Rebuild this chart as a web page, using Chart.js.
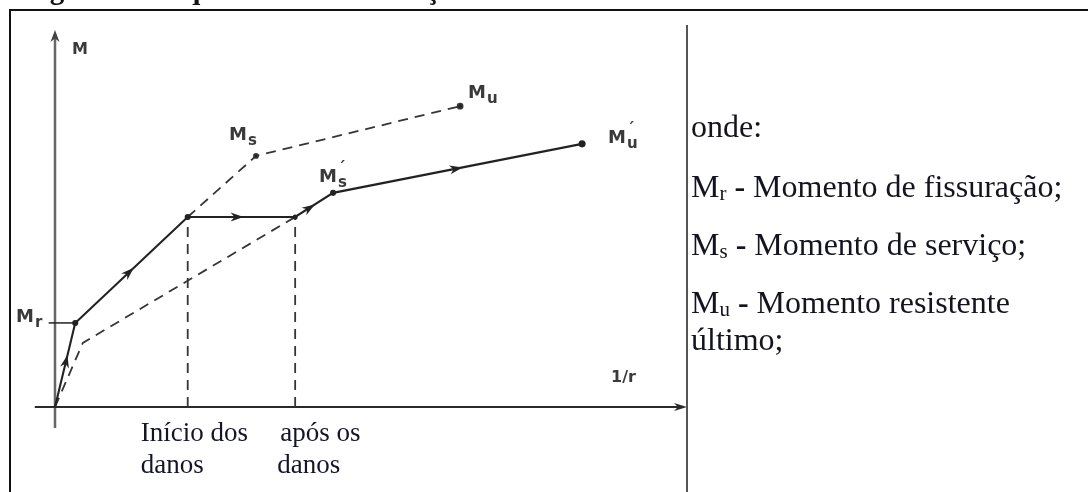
<!DOCTYPE html>
<html>
<head>
<meta charset="utf-8">
<script src="https://cdn.jsdelivr.net/npm/chart.js@4.4.1/dist/chart.umd.min.js"></script>
<style>
  html, body { margin: 0; padding: 0; background: #fff; }
  #wrap { width: 1088px; height: 492px; position: relative; }
</style>
</head>
<body>
<div id="wrap"><canvas id="myChart"></canvas></div>
<script>
const ctx = document.getElementById('myChart').getContext('2d')

// M - 1/r paths (units: % of axis length)
const solidX = [0, 3.2, 21, 38, 44, 83.4]      // loading, damage, reloading
const solidY = [0, 22.3, 50.4, 50.4, 56.8, 69.8]
const virginX = [21, 31.8, 64.1]                // undamaged curve, Ms -> Mu
const virginY = [50.4, 66.6, 79.8]
const reloadX = [0, 4.4, 38]                    // stiffness after damage
const reloadY = [0, 17, 50.4]
const markX = [21, 38]                          // start / end of damage
const markLabels = [['Início dos', 'danos'], ['após os', 'danos']]
const crackY = 22.3                             // Mr

const legendLines = [
    ['M', 'r', ' Momento de fissuração;'],
    ['M', 's', ' Momento de serviço;'],
    ['M', 'u', ' Momento resistente'],
]

const toPts = (xs, ys) => xs.map((x, i) => ({x: x, y: ys[i]}))

const lineStyle = {
    showLine: true,
    borderColor: '#222',
    backgroundColor: '#222',
    borderWidth: 2.1,
    pointRadius: 0,
    clip: false,
}
const dashed = Object.assign({}, lineStyle, {borderDash: [10, 7], borderWidth: 1.8, borderColor: '#353535'})

const datasets = [
    Object.assign({}, lineStyle, {data: toPts(solidX, solidY), pointRadius: [0, 2, 2, 1.5, 2, 2.5]}),
    Object.assign({}, dashed, {data: toPts(virginX, virginY), pointRadius: [0, 2, 2.5]}),
    Object.assign({}, dashed, {data: toPts(reloadX, reloadY)}),
    Object.assign({}, lineStyle, {data: [{x: -1, y: crackY}, {x: solidX[1], y: crackY}], borderWidth: 1.5}),
]
markX.forEach((x, i) => {
    datasets.push(Object.assign({}, dashed, {data: [{x: x, y: 0}, {x: x, y: solidY[2 + i]}]}))
})

function arrowHead(c, x, y, ang, len, wid) {
    c.save()
    c.translate(x, y)
    c.rotate(ang)
    c.beginPath()
    c.moveTo(0, 0)
    c.lineTo(-len, -wid / 2)
    c.lineTo(-len * 0.7, 0)
    c.lineTo(-len, wid / 2)
    c.closePath()
    c.fill()
    c.restore()
}

// subscripted label: big M, small subscript, optional prime
function mLabel(c, x, y, sub, prime) {
    c.font = 'bold 18px "DejaVu Sans"'
    c.fillText('M', x, y)
    const w = c.measureText('M').width
    c.font = 'bold 15px "DejaVu Sans"'
    c.fillText(sub, x + w + 1, y + 5)
    if (prime) c.fillText('\u02CA', x + w + 1, y - 9)
}

const sketch = {
    id: 'sketch',
    beforeDatasetsDraw(chart) {
        const c = chart.ctx
        const xs = chart.scales.x, ys = chart.scales.y
        const ox = xs.getPixelForValue(0), oy = ys.getPixelForValue(0)
        c.save()
        // axes
        c.strokeStyle = '#666'
        c.fillStyle = '#444'
        c.lineWidth = 2.5
        c.beginPath()
        c.moveTo(ox, ys.getPixelForValue(-5.6))
        c.lineTo(ox, ys.getPixelForValue(100) + 4)
        c.stroke()
        arrowHead(c, ox, ys.getPixelForValue(100), -Math.PI / 2, 12, 9)
        c.strokeStyle = '#2a2a2a'
        c.fillStyle = '#2a2a2a'
        c.lineWidth = 1.8
        c.beginPath()
        c.moveTo(xs.getPixelForValue(-3.2), oy)
        c.lineTo(xs.getPixelForValue(100) - 4, oy)
        c.stroke()
        arrowHead(c, xs.getPixelForValue(100), oy, 0, 13, 8)
        c.restore()
    },
    afterDatasetsDraw(chart) {
        const c = chart.ctx
        const xs = chart.scales.x, ys = chart.scales.y
        const px = (x) => xs.getPixelForValue(x)
        const py = (y) => ys.getPixelForValue(y)
        c.save()
        // arrows halfway along each solid segment
        c.fillStyle = '#222'
        for (let i = 0; i < solidX.length - 1; i++) {
            const x0 = px(solidX[i]), y0 = py(solidY[i])
            const x1 = px(solidX[i + 1]), y1 = py(solidY[i + 1])
            const t = i === 0 ? 0.62 : 0.52
            arrowHead(c, x0 + (x1 - x0) * t, y0 + (y1 - y0) * t, Math.atan2(y1 - y0, x1 - x0), 13, 9)
        }
        // diagram labels
        c.fillStyle = '#3a3a3a'
        c.textBaseline = 'alphabetic'
        c.font = 'bold 16px "DejaVu Sans"'
        c.fillText('M', 72, 54)
        mLabel(c, 16, py(crackY) - 1, 'r', false)
        mLabel(c, px(virginX[1]) - 27, py(virginY[1]) - 16, 's', false)
        mLabel(c, px(virginX[2]) + 8, py(virginY[2]) - 8, 'u', false)
        mLabel(c, px(solidX[4]) - 14, py(solidY[4]) - 11, 's', true)
        mLabel(c, px(solidX[5]) + 26, py(solidY[5]) - 1, 'u', true)
        c.font = 'bold 16px "DejaVu Sans"'
        c.fillText('1/r', 611, 382)
        // damage labels under the x axis
        c.fillStyle = '#15152a'
        c.font = '27px "Liberation Serif"'
        markLabels.forEach((lines, i) => {
            const x = px(markX[i]) - (i === 0 ? 47 : 15)
            c.fillText(lines[0], x, 441)
            c.fillText(lines[1], x - (i === 0 ? 0 : 3), 473)
        })
        c.restore()
    },
    afterDraw(chart) {
        const c = chart.ctx
        c.save()
        // caption, cut by the page top
        c.fillStyle = '#111'
        c.font = 'bold 29px "Liberation Serif"'
        c.fillText('Figura 1 - Esquema de deterioração das características resistentes de uma estrutura', 24, -1)
        // frame and divider
        c.strokeStyle = '#111'
        c.lineWidth = 2
        c.beginPath()
        c.moveTo(10, 492)
        c.lineTo(10, 10)
        c.lineTo(1088, 10)
        c.stroke()
        c.strokeStyle = '#555'
        c.beginPath()
        c.moveTo(687, 25)
        c.lineTo(687, 492)
        c.stroke()
        // legend text
        c.fillStyle = '#141420'
        c.font = '32px "Liberation Serif"'
        c.fillText('onde:', 691, 137)
        legendLines.forEach((l, i) => {
            const y = 197 + i * 58
            c.font = '32px "Liberation Serif"'
            c.fillText(l[0], 691, y)
            let x = 691 + c.measureText(l[0]).width
            c.font = '21px "Liberation Serif"'
            c.fillText(l[1], x, y + 3)
            x += c.measureText(l[1]).width
            c.font = 'bold 32px "Liberation Serif"'
            c.fillText(' -', x, y)
            x += c.measureText(' -').width
            c.font = '32px "Liberation Serif"'
            c.fillText(l[2], x, y)
        })
        c.fillText('último;', 691, 350)
        c.restore()
    }
}

const config = {
    type: 'scatter',
    data: {datasets: datasets},
    options: {
        responsive: true,
        maintainAspectRatio: false,
        animation: false,
        layout: {padding: {left: 55, right: 401, top: 30, bottom: 85}},
        plugins: {
            legend: {display: false},
            tooltip: {enabled: false},
        },
        scales: {
            x: {type: 'linear', min: 0, max: 100, display: false},
            y: {type: 'linear', min: 0, max: 100, display: false},
        },
    },
    plugins: [sketch],
}

const myChart = new Chart(ctx, config)
</script>
</body>
</html>
